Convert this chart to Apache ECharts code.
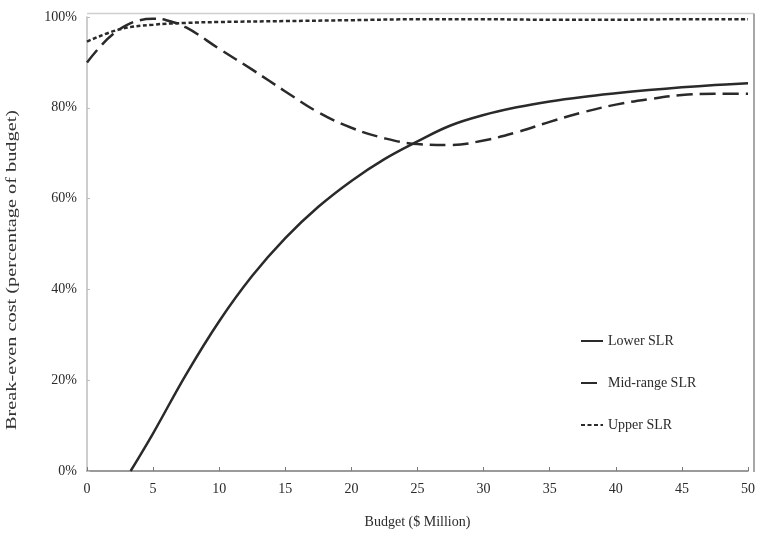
<!DOCTYPE html>
<html>
<head>
<meta charset="utf-8">
<script src="https://cdn.jsdelivr.net/npm/echarts@6/dist/echarts.min.js"></script>
<style>
  html, body { margin: 0; padding: 0; background: #fff; }
  #chart { width: 758px; height: 534px; }
</style>
</head>
<body>
<div id="chart"></div>
<script>
  // values (percent of budget)
  var lowerX = [3.3, 5, 7.5, 10, 12.5, 15, 17.5, 20, 22.5, 25, 27.5, 30, 32.5, 35, 37.5, 40, 42.5, 45, 47.5, 50];
  var lowerY = [0, 8.3, 21.3, 33, 43, 51.3, 58.2, 63.9, 68.7, 72.6, 76.1, 78.4, 80.1, 81.4, 82.4, 83.2, 83.9, 84.5, 85.0, 85.4];

  var midX = [0, 1, 2, 3, 4, 5, 6, 7.5, 10, 12.5, 15, 17.5, 20, 22.5, 25, 27.5, 30, 32.5, 35, 37.5, 40, 42.5, 45, 47.5, 50];
  var midY = [90, 93.5, 96.3, 98.2, 99.3, 99.6, 99.3, 97.7, 93, 88.4, 83.6, 79, 75.6, 73.3, 72, 71.8, 72.8, 74.6, 76.9, 79, 80.7, 81.9, 82.8, 83.1, 83.1];

  var upperX = [0, 2.5, 5, 7.5, 10, 15, 20, 25, 30, 35, 40, 45, 50];
  var upperY = [94.6, 97.3, 98.3, 98.7, 98.9, 99.1, 99.3, 99.5, 99.5, 99.4, 99.4, 99.5, 99.5];

  var xTicks = [0, 5, 10, 15, 20, 25, 30, 35, 40, 45, 50];
  var yTicks = [0, 20, 40, 60, 80, 100];

  function pairs(xs, ys) {
    return xs.map(function (x, i) { return [x, ys[i]]; });
  }

  var font = "Liberation Serif";
  var ink = "#2a2a2a";

  var chart = echarts.init(document.getElementById("chart"));
  chart.setOption({
    animation: false,
    grid: { left: 87, right: 4, top: 17, bottom: 62 },
    legend: {
      orient: "vertical",
      left: 580,
      top: 334,
      padding: 0,
      itemWidth: 22,
      itemHeight: 14,
      itemGap: 28,
      itemStyle: { opacity: 0 },
      textStyle: { fontFamily: font, fontSize: 14, color: ink },
      data: ["Lower SLR", "Mid-range SLR", "Upper SLR"]
    },
    xAxis: {
      type: "value",
      min: xTicks[0],
      max: xTicks[xTicks.length - 1],
      interval: 5,
      name: "Budget ($ Million)",
      nameLocation: "middle",
      nameGap: 44,
      nameTextStyle: { fontFamily: font, fontSize: 14, color: ink },
      axisLine: { lineStyle: { color: "#7a7a7a", width: 1.5 } },
      axisTick: { inside: true, length: 4, lineStyle: { color: "#7a7a7a" } },
      axisLabel: { margin: 11, fontFamily: font, fontSize: 14, color: ink },
      splitLine: { show: false }
    },
    yAxis: {
      type: "value",
      min: yTicks[0],
      max: yTicks[yTicks.length - 1],
      interval: 20,
      axisLine: { show: true, lineStyle: { color: "#bdbdbd", width: 1.5 } },
      axisTick: { show: true, inside: true, length: 3, lineStyle: { color: "#bdbdbd" } },
      axisLabel: {
        margin: 10,
        fontFamily: font,
        fontSize: 14,
        color: ink,
        formatter: "{value}%"
      },
      splitLine: { show: false }
    },
    graphic: [
      {
        type: "line",
        shape: { x1: 87, y1: 13.5, x2: 754, y2: 13.5 },
        style: { stroke: "#cfcfcf", lineWidth: 1.5 },
        silent: true
      },
      {
        type: "line",
        shape: { x1: 754, y1: 13.5, x2: 754, y2: 472 },
        style: { stroke: "#8a8a8a", lineWidth: 1.5 },
        silent: true
      },
      {
        type: "text",
        x: 12,
        y: 270,
        rotation: Math.PI / 2,
        scaleX: 1.45,
        style: {
          text: "Break-even cost (percentage of budget)",
          font: "14px " + font,
          fill: "#333",
          align: "center",
          verticalAlign: "middle"
        }
      }
    ],
    series: [
      {
        name: "Lower SLR",
        type: "line",
        smooth: 0.4,
        symbol: "none",
        data: pairs(lowerX, lowerY),
        lineStyle: { color: ink, width: 2.5 },
        itemStyle: { color: ink }
      },
      {
        name: "Mid-range SLR",
        type: "line",
        smooth: 0.4,
        symbol: "none",
        data: pairs(midX, midY),
        lineStyle: { color: ink, width: 2.5, type: [16, 7] },
        itemStyle: { color: ink }
      },
      {
        name: "Upper SLR",
        type: "line",
        smooth: 0.4,
        symbol: "none",
        data: pairs(upperX, upperY),
        lineStyle: { color: ink, width: 2.5, type: [4, 2.5] },
        itemStyle: { color: ink }
      }
    ]
  });
</script>
</body>
</html>
